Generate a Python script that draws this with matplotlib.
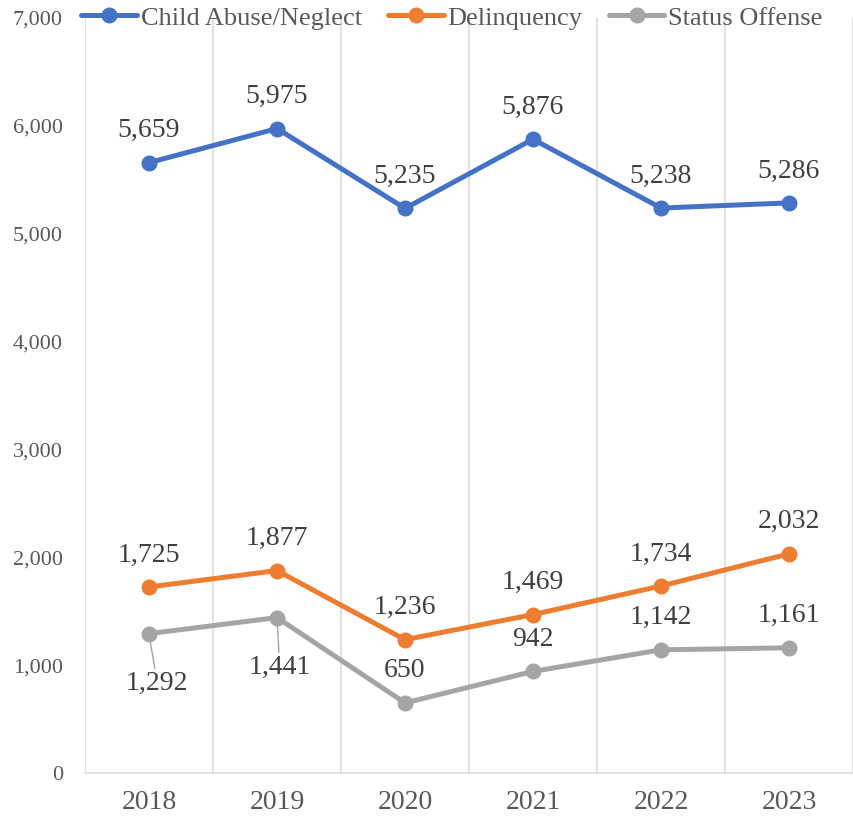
import matplotlib.pyplot as plt
from matplotlib.ticker import FuncFormatter

years = ["2018", "2019", "2020", "2021", "2022", "2023"]
child_abuse = [5659, 5975, 5235, 5876, 5238, 5286]
delinquency = [1725, 1877, 1236, 1469, 1734, 2032]
status_offense = [1292, 1441, 650, 942, 1142, 1161]

series_names = ["Child Abuse/Neglect", "Delinquency", "Status Offense"]
series_colors = ["#4472C4", "#ED7D31", "#A5A5A5"]

plt.rcParams['font.family'] = ['Liberation Serif', 'DejaVu Serif']

fig = plt.figure(figsize=(8.54, 8.27), dpi=100)
ax = fig.add_axes([85 / 854, 54 / 827, 768 / 854, 755 / 827])

x = list(range(len(years)))

# vertical gridlines between categories
for k in range(len(years) + 1):
    ax.axvline(k - 0.5, color="#D9D9D9", lw=1.1, zorder=0)

for vals, name, col in zip([child_abuse, delinquency, status_offense], series_names, series_colors):
    ax.plot(x, vals, color=col, lw=3.6, marker='o', markersize=10.5, label=name, zorder=3,
            solid_capstyle='round')

def fmt(v):
    return f"{v:,}"

# data labels above the points
for vals in [child_abuse, delinquency]:
    for i, v in enumerate(vals):
        ax.annotate(fmt(v), (i, v), xytext=(0, 23), textcoords='offset points',
                    ha='center', va='center', fontsize=20, color="#404040")

# status offense: first two below with leader lines
for i, v in enumerate(status_offense):
    if i < 2:
        dx = 6 if i == 0 else 2
        ax.annotate(fmt(v), (i, v), xytext=(dx, -36), textcoords='offset points',
                    ha='center', va='center', fontsize=20, color="#404040",
                    arrowprops=dict(arrowstyle='-', color="#A5A5A5", lw=1.0,
                                    shrinkA=0, shrinkB=4))
    else:
        ax.annotate(fmt(v), (i, v), xytext=(0, 23), textcoords='offset points',
                    ha='center', va='center', fontsize=20, color="#404040")

ax.set_xlim(-0.5, len(years) - 0.5)
ax.set_ylim(0, 7000)
ax.set_yticks(range(0, 7001, 1000))
ax.yaxis.set_major_formatter(FuncFormatter(lambda v, p: f"{int(v):,}"))
ax.set_xticks(x)
ax.set_xticklabels(years)

for s in ["top", "right", "left"]:
    ax.spines[s].set_visible(False)
ax.spines["bottom"].set_color("#D9D9D9")
ax.spines["bottom"].set_linewidth(1.1)

ax.tick_params(axis='y', length=0, pad=16, labelsize=16, labelcolor="#595959")
ax.tick_params(axis='x', length=0, pad=12, labelsize=20, labelcolor="#595959")

leg = fig.legend(loc='center', bbox_to_anchor=(452 / 854, 1 - 18 / 827), ncol=3,
                 frameon=False, fontsize=19, handlelength=2.1, handletextpad=0.15,
                 columnspacing=1.0, borderpad=0, borderaxespad=0)
for t in leg.get_texts():
    t.set_color("#595959")

fig.savefig("out.png", dpi=100)
